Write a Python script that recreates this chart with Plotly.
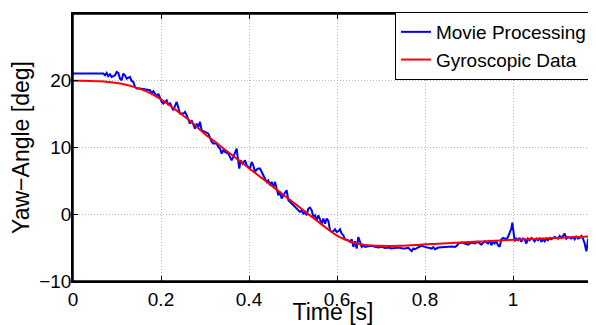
import plotly.graph_objects as go

# Movie-processing yaw angle (blue)
movie_t = [
    0.0, 0.069, 0.0727, 0.0765, 0.080, 0.0841, 0.0879, 0.0955, 0.0992, 0.103,
    0.1068, 0.1106, 0.1144, 0.1182, 0.122, 0.1295, 0.1333, 0.1371, 0.1409, 0.1447,
    0.1523, 0.1598, 0.1674, 0.175, 0.1788, 0.1826, 0.1864, 0.1902, 0.1939, 0.1977,
    0.2015, 0.2053, 0.2129, 0.2167, 0.2205, 0.2242, 0.228, 0.2356, 0.2394, 0.2432,
    0.2508, 0.2545, 0.2583, 0.2621, 0.2659, 0.2697, 0.2735, 0.2773, 0.2811, 0.2848,
    0.2886, 0.2924, 0.3, 0.3076, 0.3152, 0.3189, 0.3265, 0.3303, 0.3341, 0.3379,
    0.3417, 0.3455, 0.353, 0.3568, 0.3606, 0.3644, 0.3682, 0.372, 0.3742, 0.378,
    0.381, 0.3856, 0.3909, 0.3947, 0.3985, 0.4023, 0.4061, 0.4098, 0.4136, 0.4174,
    0.4212, 0.425, 0.4288, 0.4326, 0.4364, 0.4402, 0.4439, 0.4477, 0.4515, 0.4553,
    0.4591, 0.4629, 0.4667, 0.4705, 0.4742, 0.478, 0.4818, 0.4856, 0.4894, 0.4932,
    0.497, 0.5008, 0.5045, 0.5083, 0.5121, 0.5159, 0.5197, 0.5235, 0.5273, 0.5311,
    0.5348, 0.5386, 0.5424, 0.5462, 0.55, 0.5538, 0.5576, 0.5614, 0.5652, 0.5689,
    0.5727, 0.5765, 0.5803, 0.5841, 0.5879, 0.5917, 0.5955, 0.5992, 0.603, 0.6068,
    0.6106, 0.6144, 0.6182, 0.6258, 0.6295, 0.6333, 0.6371, 0.6409, 0.6447, 0.6485,
    0.6523, 0.6561, 0.6598, 0.6636, 0.6712, 0.6788, 0.6864, 0.6939, 0.7015, 0.7091,
    0.7167, 0.7242, 0.7318, 0.7394, 0.747, 0.7545, 0.7621, 0.7659, 0.7697, 0.7735,
    0.7773, 0.7848, 0.7924, 0.8, 0.8076, 0.8152, 0.8189, 0.8227, 0.8303, 0.8379,
    0.8455, 0.853, 0.8606, 0.8682, 0.872, 0.876, 0.8826, 0.8902, 0.8977, 0.9053,
    0.9129, 0.9205, 0.928, 0.9356, 0.9432, 0.947, 0.9508, 0.9545, 0.9583, 0.9621,
    0.9659, 0.9697, 0.9735, 0.9773, 0.9811, 0.9848, 0.9886, 0.9924, 0.9962, 0.9985,
    1.0008, 1.0038, 1.0076, 1.0114, 1.0152, 1.0189, 1.0227, 1.0265, 1.0303, 1.0341,
    1.0379, 1.0417, 1.0455, 1.0492, 1.053, 1.0568, 1.0606, 1.0644, 1.0682, 1.072,
    1.0758, 1.0795, 1.0833, 1.0871, 1.0947, 1.1023, 1.1061, 1.1098, 1.1136, 1.1174,
    1.1212, 1.125, 1.1326, 1.1364, 1.1402, 1.1439, 1.1477, 1.1515, 1.1553, 1.1591,
    1.1629, 1.1667, 1.1689, 1.1705, 1.1742, 1.178, 1.1818,
]
movie_y = [
    21.07, 21.07, 20.82, 21.17, 20.67, 20.97, 20.57, 20.82, 21.32, 21.17,
    20.32, 20.07, 21.07, 20.82, 20.32, 20.57, 19.97, 19.82, 19.08, 18.83,
    18.83, 18.73, 18.68, 18.58, 18.08, 18.43, 18.08, 17.58, 18.08, 17.33,
    16.83, 16.58, 17.08, 16.33, 16.68, 16.08, 15.58, 16.83, 16.08, 15.08,
    15.08, 15.33, 14.83, 14.08, 13.58, 14.08, 13.33, 12.83, 13.58, 13.08,
    13.83, 12.58, 12.33, 12.08, 10.84, 10.59, 10.59, 10.09, 9.84, 9.09,
    9.59, 9.34, 9.09, 8.59, 8.09, 8.59, 9.19, 9.84, 8.59, 6.84,
    8.09, 7.59, 8.09, 7.34, 7.09, 6.84, 7.84, 7.34, 6.34, 6.69,
    6.84, 6.84, 6.34, 5.84, 5.34, 4.84, 5.09, 4.34, 4.84, 4.09,
    4.84, 3.60, 2.85, 3.35, 2.35, 2.85, 3.35, 3.60, 2.10, 1.85,
    1.60, 1.35, 1.10, 0.85, 0.60, 0.35, 0.60, 0.10, 0.35, -0.15,
    0.85, 1.00, 0.60, -0.40, -0.15, -0.90, -0.15, -0.65, -1.40, -0.65,
    -1.40, -0.65, -1.00, -2.40, -2.65, -2.55, -2.25, -2.65, -2.55, -2.25,
    -2.90, -3.15, -3.75, -3.90, -4.15, -3.75, -4.89, -4.05, -5.14, -3.40,
    -4.05, -4.89, -4.64, -4.89, -4.79, -4.74, -4.89, -4.99, -4.89, -5.04,
    -4.99, -5.14, -5.04, -4.99, -5.09, -5.14, -5.04, -5.34, -5.54, -5.14,
    -5.24, -4.94, -4.74, -4.89, -4.99, -5.14, -4.94, -5.24, -4.99, -4.94,
    -4.99, -4.89, -4.84, -4.89, -4.74, -4.39, -4.24, -4.39, -4.54, -4.24,
    -4.39, -4.14, -4.54, -4.05, -4.39, -3.90, -4.64, -4.14, -4.39, -4.05,
    -4.64, -4.89, -3.75, -3.55, -3.65, -3.75, -3.40, -2.90, -2.15, -1.25,
    -2.40, -4.05, -3.65, -3.90, -3.55, -4.14, -3.65, -3.75, -4.39, -3.65,
    -3.90, -3.55, -3.75, -4.05, -3.65, -3.90, -3.55, -4.14, -3.75, -4.05,
    -3.65, -3.90, -3.55, -3.75, -3.40, -3.65, -3.25, -3.55, -3.25, -2.90,
    -3.65, -3.40, -3.65, -3.40, -3.75, -3.25, -3.65, -3.55, -3.25, -3.65,
    -4.39, -5.54, -4.64, -3.75, -3.55, -3.40, -3.55,
]

# Gyroscopic yaw angle (red)
gyro_t = [
    0.00, 0.02, 0.04, 0.06, 0.08, 0.10, 0.12, 0.14, 0.16, 0.18,
    0.20, 0.22, 0.24, 0.26, 0.28, 0.30, 0.32, 0.34, 0.36, 0.38,
    0.40, 0.42, 0.44, 0.46, 0.48, 0.50, 0.52, 0.54, 0.56, 0.58,
    0.60, 0.62, 0.64, 0.66, 0.68, 0.70, 0.72, 0.74, 0.76, 0.78,
    0.80, 0.82, 0.84, 0.86, 0.88, 0.90, 0.92, 0.94, 0.96, 0.98,
    1.00, 1.02, 1.04, 1.06, 1.08, 1.10, 1.12, 1.14, 1.16, 1.18,
]
gyro_y = [
    20.0, 20.0, 19.98, 19.93, 19.82, 19.65, 19.4, 19.05, 18.6, 18.0,
    17.2, 16.3, 15.3, 14.3, 13.2, 12.0, 11.0, 9.96, 8.94, 7.92,
    6.9, 5.88, 4.86, 3.84, 2.82, 1.8, 0.78, -0.24, -1.26, -2.28,
    -3.2, -3.85, -4.3, -4.55, -4.68, -4.72, -4.74, -4.73, -4.68, -4.6,
    -4.5, -4.44, -4.37, -4.3, -4.23, -4.17, -4.1, -4.04, -3.97, -3.9,
    -3.83, -3.78, -3.72, -3.66, -3.6, -3.54, -3.48, -3.42, -3.36, -3.3,
]

x_ticks = [0, 0.2, 0.4, 0.6, 0.8, 1.0]
x_tick_labels = ["0", "0.2", "0.4", "0.6", "0.8", "1"]
y_ticks = [-10, 0, 10, 20, 30]
y_tick_labels = ["\u221210", "0", "10", "20", "30"]

FONT = "Liberation Sans"

fig = go.Figure()
fig.add_trace(go.Scatter(x=movie_t, y=movie_y, mode="lines", name="Movie Processing",
                         line=dict(color="#0000ff", width=2)))
fig.add_trace(go.Scatter(x=gyro_t, y=gyro_y, mode="lines", name="Gyroscopic Data",
                         line=dict(color="#ff0000", width=2, shape="spline")))

axis_common = dict(
    showline=True, linecolor="black", linewidth=1.5, mirror="ticks",
    ticks="inside", ticklen=5, tickcolor="black", tickwidth=1,
    showgrid=True, gridcolor="#b4b4b4", griddash="1px,2px", gridwidth=1,
    zeroline=False, automargin=False,
)

# page body has an 8px margin, so the figure is sized to fill the window
fig.update_layout(
    width=588, height=317,
    margin=dict(l=65, r=3, t=6, b=44),
    paper_bgcolor="white", plot_bgcolor="white",
    font=dict(family=FONT, size=19, color="black"),
    xaxis=dict(range=[0, 1.1818], tickvals=x_ticks, ticktext=x_tick_labels,
               title=dict(text="Time [s]", standoff=5), **axis_common),
    yaxis=dict(range=[-10, 30], tickvals=y_ticks, ticktext=y_tick_labels,
               ticklabelstandoff=-4,
               title=dict(text="Yaw\u2212Angle [deg]", standoff=6), **axis_common),
    legend=dict(x=0.998, y=1.0075, xanchor="right", yanchor="top",
                bgcolor="white", bordercolor="black", borderwidth=1,
                itemwidth=30, tracegroupgap=0,
                font=dict(family=FONT, size=19)),
    showlegend=True,
    # axes box frame (MATLAB style)
    shapes=[dict(type="rect", xref="paper", yref="paper", x0=0, x1=1, y0=0, y1=1,
                 line=dict(color="black", width=1.5), fillcolor="rgba(0,0,0,0)",
                 layer="above")],
)

fig.write_html("out.html")
